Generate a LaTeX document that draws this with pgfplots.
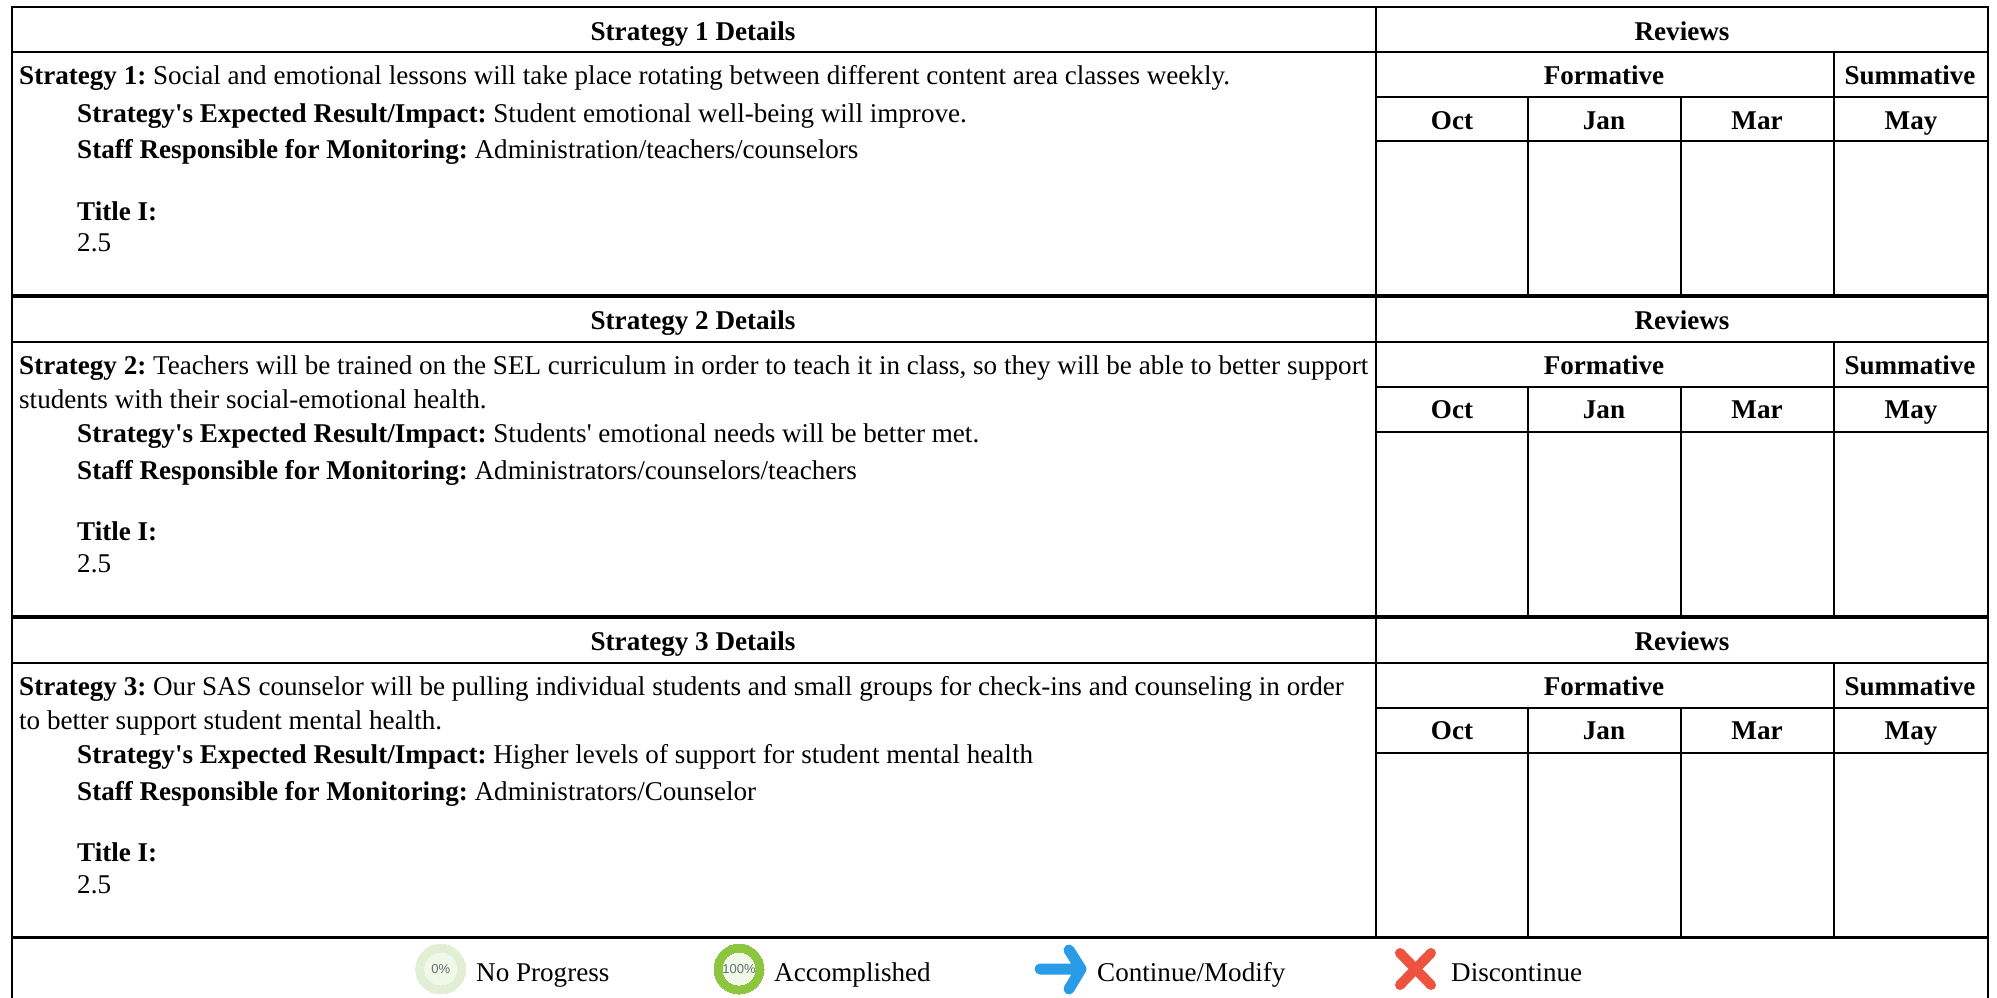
\documentclass[border=0pt]{standalone}
\usepackage{pgfplots}
\pgfplotsset{compat=1.18}
\usepackage{fontspec}
\setmainfont{Liberation Serif}[Ligatures=TeXOff]
\newfontfamily\lsans{Liberation Sans}
\definecolor{ringpale}{HTML}{E3EFD4}
\definecolor{ringin}{HTML}{F1F8EA}
\definecolor{ringgreen}{HTML}{8CC63F}
\definecolor{arrowblue}{HTML}{2A9BE6}
\definecolor{xred}{HTML}{EE5340}
\definecolor{pct}{HTML}{5F7070}
\newcommand{\TL}[3]{\node[anchor=base west,inner sep=0pt,yshift=-1pt] at (axis cs:#1,#2) {\vphantom{Ag}#3};}
\newcommand{\TC}[3]{\node[anchor=base,inner sep=0pt,yshift=-1pt] at (axis cs:#1,#2) {\vphantom{Ag}\textbf{#3}};}
\begin{document}
\fontsize{27.1}{32}\selectfont\frenchspacing
\begin{tikzpicture}
\useasboundingbox (0,0) rectangle (1997pt,998pt);
\begin{axis}[at={(0,0)},anchor=south west,scale only axis,width=1997pt,height=998pt,
 xmin=0,xmax=1997,ymin=0,ymax=998,y dir=reverse,axis lines=none,clip=false,
 unbounded coords=jump]
% thin rules
\addplot[black,line width=2pt,mark=none] coordinates {
 (11.7,7.3)(1988,7.3)(nan,nan)
 (11.7,52)(1988,52)(nan,nan)(1375.5,97)(1988,97)(nan,nan)(1375.5,141)(1988,141)(nan,nan)
 (11.7,342)(1988,342)(nan,nan)(1375.5,387)(1988,387)(nan,nan)(1375.5,432)(1988,432)(nan,nan)
 (11.7,663)(1988,663)(nan,nan)(1375.5,708)(1988,708)(nan,nan)(1375.5,753)(1988,753)(nan,nan)
 (1375.5,7)(1375.5,296)(nan,nan)(1528,97)(1528,296)(nan,nan)(1681,97)(1681,296)(nan,nan)(1834,52)(1834,296)(nan,nan)
 (1375.5,296)(1375.5,617)(nan,nan)(1528,387)(1528,617)(nan,nan)(1681,387)(1681,617)(nan,nan)(1834,342)(1834,617)(nan,nan)
 (1375.5,617)(1375.5,937)(nan,nan)(1528,708)(1528,937)(nan,nan)(1681,708)(1681,937)(nan,nan)(1834,663)(1834,937)
};
% outer sides
\addplot[black,line width=2.4pt,mark=none] coordinates {(11.7,6)(11.7,998)(nan,nan)(1988,6)(1988,998)};
% section separators
\addplot[black,line width=3.6pt,mark=none] coordinates {(10.5,296)(1989,296)(nan,nan)(10.5,617)(1989,617)(nan,nan)(10.5,937.5)(1989,937.5)};
% legend icons
\addplot[only marks,mark=*,mark size=25pt,mark options={fill=ringpale,draw=ringpale,line width=0pt}] coordinates {(440.7,969)};
\addplot[only marks,mark=*,mark size=16pt,mark options={fill=ringin,draw=ringin,line width=0pt},
  nodes near coords={\lsans\fontsize{13}{15}\selectfont\color{pct}0\%},every node near coord/.style={anchor=center,inner sep=0pt}] coordinates {(440.7,969)};
\addplot[only marks,mark=*,mark size=25pt,mark options={fill=ringgreen,draw=ringgreen,line width=0pt}] coordinates {(739,969)};
\addplot[only marks,mark=*,mark size=16pt,mark options={fill=ringin,draw=ringin,line width=0pt},
  nodes near coords={\lsans\fontsize{13}{15}\selectfont\color{pct}100\%},every node near coord/.style={anchor=center,inner sep=0pt}] coordinates {(739,969)};
\addplot[arrowblue,line width=11pt,line cap=round,line join=round,mark=none] coordinates {(1040,969)(1080,969)(nan,nan)(1069,950)(1081,969)(1069,989)};
\addplot[xred,line width=10pt,line cap=round,mark=none] coordinates {(1400,953)(1431,985)(nan,nan)(1431,953)(1400,985)};
\TL{476}{980}{No Progress}
\TL{774}{980}{Accomplished}
\TL{1097}{980}{Continue/Modify}
\TL{1451}{980}{Discontinue}
% Section 1
\TC{693}{40}{Strategy 1 Details}\TC{1682}{40}{Reviews}
\TC{1604}{83.5}{Formative}\TC{1910}{83.5}{Summative}
\TC{1452}{128}{Oct}\TC{1604}{128}{Jan}\TC{1757}{128}{Mar}\TC{1911}{128}{May}
\TL{19}{83.5}{\textbf{Strategy 1:} Social and emotional lessons will take place rotating between different content area classes weekly.}
\TL{77}{121}{\textbf{Strategy's Expected Result/Impact:} Student emotional well-being will improve.}
\TL{77}{157}{\textbf{Staff Responsible for Monitoring:} Administration/teachers/counselors}
\TL{77}{219}{\textbf{Title I:}}
\TL{77}{250}{2.5}
% Section 2
\TC{693}{328}{Strategy 2 Details}\TC{1682}{328}{Reviews}
\TC{1604}{373}{Formative}\TC{1910}{373}{Summative}
\TC{1452}{417}{Oct}\TC{1604}{417}{Jan}\TC{1757}{417}{Mar}\TC{1911}{417}{May}
\TL{19}{373}{\textbf{Strategy 2:} Teachers will be trained on the SEL curriculum in order to teach it in class, so they will be able to better support}
\TL{19}{407}{students with their social-emotional health.}
\TL{77}{441}{\textbf{Strategy's Expected Result/Impact:} Students' emotional needs will be better met.}
\TL{77}{478}{\textbf{Staff Responsible for Monitoring:} Administrators/counselors/teachers}
\TL{77}{539.5}{\textbf{Title I:}}
\TL{77}{571}{2.5}
% Section 3
\TC{693}{649}{Strategy 3 Details}\TC{1682}{649}{Reviews}
\TC{1604}{694}{Formative}\TC{1910}{694}{Summative}
\TC{1452}{738}{Oct}\TC{1604}{738}{Jan}\TC{1757}{738}{Mar}\TC{1911}{738}{May}
\TL{19}{694}{\textbf{Strategy 3:} Our SAS counselor will be pulling individual students and small groups for check-ins and counseling in order}
\TL{19}{728}{to better support student mental health.}
\TL{77}{762}{\textbf{Strategy's Expected Result/Impact:} Higher levels of support for student mental health}
\TL{77}{799}{\textbf{Staff Responsible for Monitoring:} Administrators/Counselor}
\TL{77}{860.5}{\textbf{Title I:}}
\TL{77}{892}{2.5}
\end{axis}
\end{tikzpicture}
\end{document}
